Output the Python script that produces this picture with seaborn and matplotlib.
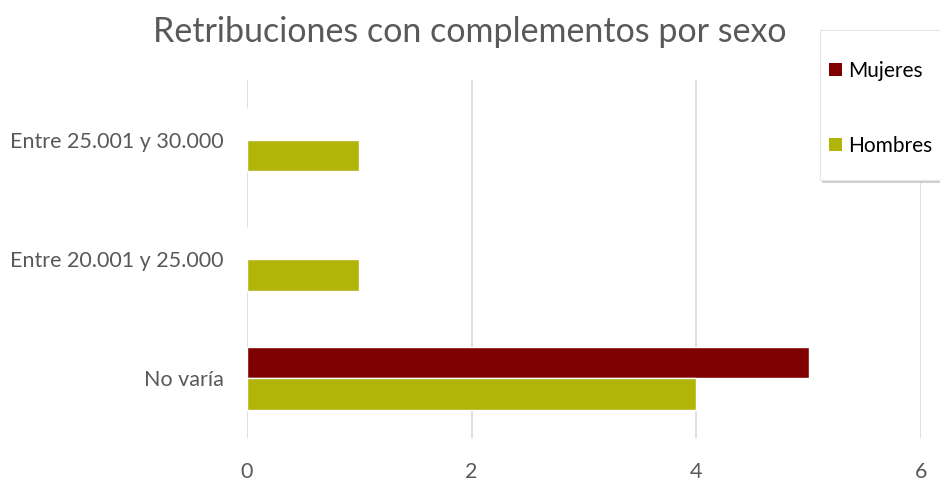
import matplotlib
matplotlib.use("Agg")
import matplotlib.pyplot as plt
import seaborn as sns
import pandas as pd
from matplotlib.patches import Patch, Rectangle

categories = ["Entre 25.001 y 30.000", "Entre 20.001 y 25.000", "No varía"]
series = ["Mujeres", "Hombres"]
mujeres = [0, 0, 5]
hombres = [1, 1, 4]
x_ticks = [0, 2, 4, 6]
colors = {"Mujeres": "#7f0000", "Hombres": "#b2b40a"}

rows = []
for c, m, h in zip(categories, mujeres, hombres):
    rows.append({"cat": c, "sexo": "Mujeres", "val": m})
    rows.append({"cat": c, "sexo": "Hombres", "val": h})
df = pd.DataFrame(rows)

sns.set_theme(style="white")
plt.rcParams["font.family"] = ["Lato", "DejaVu Sans"]

W, H = 940, 480
fig = plt.figure(figsize=(9.4, 4.8), dpi=100)
ax = fig.add_axes([247/W, 1 - 438/H, (921-247)/W, (438-80)/H])

sns.barplot(data=df, x="val", y="cat", hue="sexo", order=categories,
            hue_order=series, palette=colors, orient="h", width=0.53,
            saturation=1, ax=ax, legend=False)

ax.set_xlim(0, 6)
ax.set_xticks(x_ticks)
ax.set_xlabel("")
ax.set_ylabel("")
for s in ax.spines.values():
    s.set_visible(False)
ax.grid(axis="x", color="#d9d9d9", linewidth=1.2)
ax.grid(axis="y", visible=False)
ax.set_axisbelow(True)
ax.tick_params(axis="x", colors="#595959", labelsize=15.5, length=0, pad=17)
ax.tick_params(axis="y", colors="#595959", labelsize=15.5, length=0, pad=17)
for t in ax.get_xticklabels() + ax.get_yticklabels():
    t.set_color("#595959")

fig.text(0.5, 1 - 32/H, "Retribuciones con complementos por sexo", ha="center",
         va="center", fontsize=24.5, color="#595959")

# legend box with soft shadow
x0, y0, x1, y1 = 820, 30, 950, 180
shadow = Rectangle(((x0 + 2) / W, 1 - (y1 + 3) / H), (x1 - x0) / W, (y1 - y0) / H,
                   transform=fig.transFigure, facecolor="#cfcfcf", edgecolor="none", zorder=5)
box = Rectangle((x0 / W, 1 - y1 / H), (x1 - x0) / W, (y1 - y0) / H,
                transform=fig.transFigure, facecolor="white", edgecolor="#e6e6e6",
                linewidth=0.8, zorder=6)
fig.patches.extend([shadow, box])

handles = [Patch(facecolor=colors[s], edgecolor="none") for s in series]
leg = fig.legend(handles, series, loc="upper left",
                 bbox_to_anchor=(829 / W, 1 - 61 / H),
                 frameon=False, fontsize=15, labelspacing=2.62,
                 handlelength=0.62, handleheight=0.62,
                 handletextpad=0.3, borderpad=0.0, borderaxespad=0.0)
leg.set_zorder(7)
for t in leg.get_texts():
    t.set_color("#000000")

fig.savefig("out.png", dpi=100)
